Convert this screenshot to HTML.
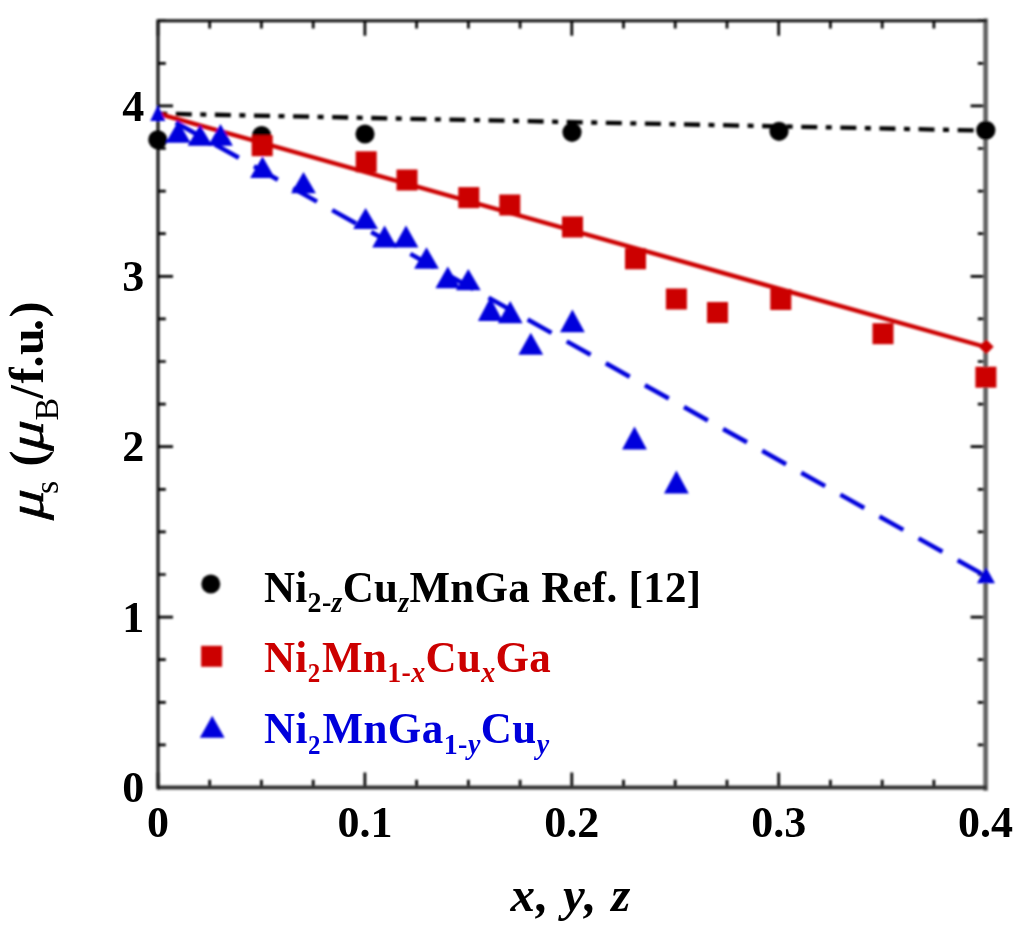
<!DOCTYPE html><html><head><meta charset="utf-8"><title>chart</title>
<style>html,body{margin:0;padding:0;background:#fff}body{width:1024px;height:936px;overflow:hidden}svg{display:block}text{font-family:"Liberation Serif",serif;font-weight:bold}</style></head><body>
<svg width="1024" height="936" viewBox="0 0 1024 936">
<defs><filter id="bl" x="-2%" y="-2%" width="104%" height="104%"><feGaussianBlur stdDeviation="1.0"/></filter><filter id="bt" x="-2%" y="-2%" width="104%" height="104%"><feGaussianBlur stdDeviation="0.65"/></filter></defs>
<rect width="1024" height="936" fill="#fff"/>
<g filter="url(#bl)">
<path d="M158.0 787.5 v-15 M158.0 20.7 v15 M209.7 787.5 v-7.8 M209.7 20.7 v7.8 M261.4 787.5 v-7.8 M261.4 20.7 v7.8 M313.2 787.5 v-7.8 M313.2 20.7 v7.8 M364.9 787.5 v-15 M364.9 20.7 v15 M416.6 787.5 v-7.8 M416.6 20.7 v7.8 M468.4 787.5 v-7.8 M468.4 20.7 v7.8 M520.1 787.5 v-7.8 M520.1 20.7 v7.8 M571.8 787.5 v-15 M571.8 20.7 v15 M623.5 787.5 v-7.8 M623.5 20.7 v7.8 M675.2 787.5 v-7.8 M675.2 20.7 v7.8 M727.0 787.5 v-7.8 M727.0 20.7 v7.8 M778.7 787.5 v-15 M778.7 20.7 v15 M830.4 787.5 v-7.8 M830.4 20.7 v7.8 M882.2 787.5 v-7.8 M882.2 20.7 v7.8 M933.9 787.5 v-7.8 M933.9 20.7 v7.8 M985.6 787.5 v-15 M985.6 20.7 v15 M158.0 787.5 h15 M985.6 787.5 h-15 M158.0 744.9 h7.8 M985.6 744.9 h-7.8 M158.0 702.3 h7.8 M985.6 702.3 h-7.8 M158.0 659.7 h7.8 M985.6 659.7 h-7.8 M158.0 617.1 h15 M985.6 617.1 h-15 M158.0 574.5 h7.8 M985.6 574.5 h-7.8 M158.0 531.9 h7.8 M985.6 531.9 h-7.8 M158.0 489.3 h7.8 M985.6 489.3 h-7.8 M158.0 446.7 h15 M985.6 446.7 h-15 M158.0 404.1 h7.8 M985.6 404.1 h-7.8 M158.0 361.5 h7.8 M985.6 361.5 h-7.8 M158.0 318.9 h7.8 M985.6 318.9 h-7.8 M158.0 276.3 h15 M985.6 276.3 h-15 M158.0 233.7 h7.8 M985.6 233.7 h-7.8 M158.0 191.1 h7.8 M985.6 191.1 h-7.8 M158.0 148.5 h7.8 M985.6 148.5 h-7.8 M158.0 105.9 h15 M985.6 105.9 h-15 M158.0 63.3 h7.8 M985.6 63.3 h-7.8 M158.0 20.7 h7.8 M985.6 20.7 h-7.8" stroke="#000" stroke-width="2.7" fill="none"/>
<path d="M985.6 20.7 V788.5" stroke="#606060" stroke-width="4.6" fill="none" stroke-linecap="square"/>
<path d="M158.0 787.5 H986.6" stroke="#303030" stroke-width="4.2" fill="none" stroke-linecap="butt"/>
<path d="M158.0 789.5 V20.7 H986.6" stroke="#0c0c0c" stroke-width="3" fill="none" stroke-linecap="butt" stroke-linejoin="miter"/>
<line x1="158.0" y1="113.6" x2="985.6" y2="130.6" stroke="#000" stroke-width="4.3" stroke-dasharray="16 8.5 6 8.6" stroke-dashoffset="-17.8"/>
<line x1="158.0" y1="113.6" x2="985.6" y2="347.0" stroke="#cc0000" stroke-width="4.4"/>
<line x1="158.0" y1="112.6" x2="985.6" y2="575.9" stroke="#0000dc" stroke-width="4.5" stroke-dasharray="27.4 17.4" stroke-dashoffset="-20.4"/>
<circle cx="157.8" cy="139.8" r="9.6" fill="#000"/>
<circle cx="261.6" cy="135.5" r="9.6" fill="#000"/>
<circle cx="365" cy="134" r="9.6" fill="#000"/>
<circle cx="572" cy="132.3" r="9.6" fill="#000"/>
<circle cx="779" cy="131.3" r="9.6" fill="#000"/>
<circle cx="985.8" cy="130.3" r="9.6" fill="#000"/>
<rect x="251.7" y="135.2" width="21" height="21" fill="#cc0000"/>
<rect x="355.7" y="151.3" width="21" height="21" fill="#cc0000"/>
<rect x="396.5" y="169.5" width="21" height="21" fill="#cc0000"/>
<rect x="458.3" y="187.1" width="21" height="21" fill="#cc0000"/>
<rect x="499.3" y="194.5" width="21" height="21" fill="#cc0000"/>
<rect x="562.0" y="216.5" width="21" height="21" fill="#cc0000"/>
<rect x="625.0" y="248.3" width="21" height="21" fill="#cc0000"/>
<rect x="665.9" y="288.5" width="21" height="21" fill="#cc0000"/>
<rect x="707.0" y="302.0" width="21" height="21" fill="#cc0000"/>
<rect x="770.3" y="289.0" width="21" height="21" fill="#cc0000"/>
<rect x="872.5" y="323.2" width="21" height="21" fill="#cc0000"/>
<rect x="975.4" y="366.7" width="21" height="21" fill="#cc0000"/>
<path d="M986.2 339.3 l7.5 7.5 l-7.5 7.5 l-7.5 -7.5z" fill="#cc0000"/>
<path d="M178.2 121.2 L190.6 142.8 H165.79999999999998z" fill="#0000dc"/>
<path d="M200 125.0 L212.4 145.8 H187.6z" fill="#0000dc"/>
<path d="M220.5 124.10000000000001 L232.9 145.8 H208.1z" fill="#0000dc"/>
<path d="M262.5 156.4 L274.9 178.10000000000002 H250.1z" fill="#0000dc"/>
<path d="M303.5 171.9 L315.9 193.3 H291.1z" fill="#0000dc"/>
<path d="M365.6 207.9 L378.0 229.10000000000002 H353.20000000000005z" fill="#0000dc"/>
<path d="M384.6 225.4 L397.0 247.5 H372.20000000000005z" fill="#0000dc"/>
<path d="M406 225.4 L418.4 247.5 H393.6z" fill="#0000dc"/>
<path d="M426.5 247.20000000000002 L438.9 268.8 H414.1z" fill="#0000dc"/>
<path d="M447.8 266.59999999999997 L460.2 288.3 H435.40000000000003z" fill="#0000dc"/>
<path d="M468.3 268.9 L480.7 290.3 H455.90000000000003z" fill="#0000dc"/>
<path d="M490.3 297.4 L502.7 321.1 H477.90000000000003z" fill="#0000dc"/>
<path d="M510.2 301.09999999999997 L522.6 323.2 H497.8z" fill="#0000dc"/>
<path d="M530.8 332.79999999999995 L543.1999999999999 354.8 H518.4z" fill="#0000dc"/>
<path d="M572.4 309.4 L584.8 332.3 H560.0z" fill="#0000dc"/>
<path d="M634.5 426.5 L646.9 449.5 H622.1z" fill="#0000dc"/>
<path d="M676.4 470.5 L688.8 493.40000000000003 H664.0z" fill="#0000dc"/>
<path d="M157.8 105.3 l7.6 15.7 h-15.2z" fill="#0000dc"/>
<path d="M986 567.3 l9 16 h-18z" fill="#0000dc"/>
<circle cx="210.8" cy="584" r="9.5" fill="#000"/>
<rect x="201.1" y="645.8" width="21" height="21" fill="#cc0000"/>
<path d="M212.2 715.7 L224.6 737.8 H199.8z" fill="#0000dc"/>
</g><g filter="url(#bt)">
<text x="144.3" y="802.1" font-size="44" text-anchor="end" fill="#000">0</text>
<text x="144.3" y="631.7" font-size="44" text-anchor="end" fill="#000">1</text>
<text x="144.3" y="461.3" font-size="44" text-anchor="end" fill="#000">2</text>
<text x="144.3" y="290.9" font-size="44" text-anchor="end" fill="#000">3</text>
<text x="144.3" y="120.5" font-size="44" text-anchor="end" fill="#000">4</text>
<text x="158.0" y="837" font-size="44" text-anchor="middle" fill="#000">0</text>
<text x="364.9" y="837" font-size="44" text-anchor="middle" fill="#000">0.1</text>
<text x="571.8" y="837" font-size="44" text-anchor="middle" fill="#000">0.2</text>
<text x="778.7" y="837" font-size="44" text-anchor="middle" fill="#000">0.3</text>
<text x="985.6" y="837" font-size="44" text-anchor="middle" fill="#000">0.4</text>
<text transform="matrix(1 0 0 1.05 0 -30.10)" x="264" y="602" font-size="43" letter-spacing="0.3" fill="#000">Ni<tspan font-size="28" dy="10">2-<tspan font-style="italic">z</tspan></tspan><tspan dy="-10">Cu</tspan><tspan font-size="28" dy="10" font-style="italic">z</tspan><tspan dy="-10">MnGa Ref. [12]</tspan></text>
<text transform="matrix(1 0 0 1.05 0 -33.60)" x="264" y="672" font-size="43" letter-spacing="0.33" fill="#cc0000">Ni<tspan font-size="25" dy="10">2</tspan><tspan dy="-10" dx="1.6">Mn</tspan><tspan font-size="28" dy="10">1-<tspan font-style="italic">x</tspan></tspan><tspan dy="-10">Cu</tspan><tspan font-size="28" dy="10" font-style="italic">x</tspan><tspan dy="-10">Ga</tspan></text>
<text transform="matrix(1 0 0 1.05 0 -37.18)" x="264" y="743.5" font-size="43" letter-spacing="0.45" fill="#0000dc">Ni<tspan font-size="25" dy="10">2</tspan><tspan dy="-10" dx="1.6">MnGa</tspan><tspan font-size="28" dy="10">1-<tspan font-style="italic">y</tspan></tspan><tspan dy="-10">Cu</tspan><tspan font-size="28" dy="10" font-style="italic">y</tspan></text>
<text x="510.5" y="911.3" font-size="49" letter-spacing="1.2" font-style="italic" fill="#000">x, y, z</text>
<g transform="translate(43,523) rotate(-90)" font-size="48" fill="#000"><text transform="translate(1.0,0) skewX(-15) scale(1.15,1)" style="font-weight:normal" stroke="#000" stroke-width="0.7" font-size="50">μ</text><text x="29" y="14.6" font-size="34" style="font-weight:normal">s</text><text x="56.5">(</text><text transform="translate(70.0,0) skewX(-15) scale(1.15,1)" style="font-weight:normal" stroke="#000" stroke-width="0.7" font-size="50">μ</text><text x="102.6" y="15" font-size="34" style="font-weight:normal">B</text><text x="124.5">/</text><text x="139.5">f.</text><text x="168">u</text><text x="192">.</text><text x="205.5">)</text></g>
</g></svg></body></html>
